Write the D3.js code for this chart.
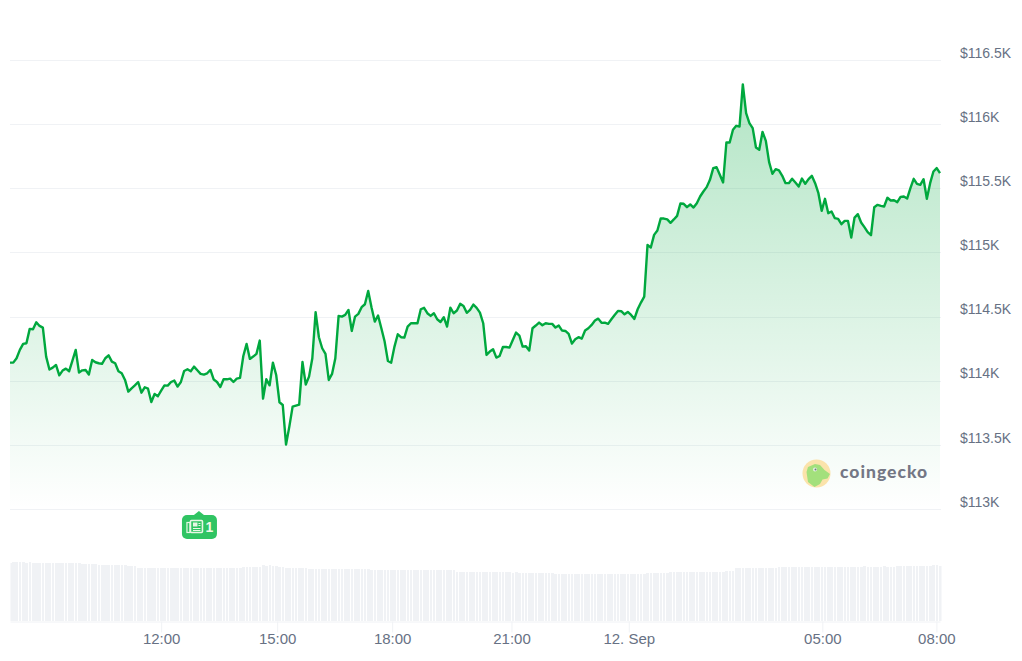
<!DOCTYPE html>
<html>
<head>
<meta charset="utf-8">
<style>
  html, body { margin: 0; padding: 0; background: #fff; }
  svg { display: block; }
  text { font-family: "Liberation Sans", Arial, sans-serif; }
</style>
<script src="https://cdn.jsdelivr.net/npm/d3@7/dist/d3.min.js"></script>
</head>
<body>
<div id="vis"></div>
<script>
// BTC price, roughly one sample every 5 minutes
var prices = [
  114141,114141,114175,114240,114287,114292,114404,114401,114456,114427,
  114414,114188,114087,114102,114123,114042,114079,114094,114074,114157,
  114240,114063,114081,114084,114048,114162,114144,114136,114131,114175,
  114198,114149,114136,114074,114058,114006,113915,113941,113964,113990,
  113907,113949,113938,113834,113897,113879,113923,113964,113962,113990,
  114001,113954,113990,114076,114089,114074,114110,114081,114053,114048,
  114058,114084,114009,113990,113951,114011,114011,114016,113990,114016,
  114022,114193,114287,114170,114188,114209,114313,113860,114011,113964,
  114141,114045,113832,113811,113502,113642,113798,113806,113814,114146,
  113970,114032,114175,114534,114339,114253,114209,114006,114053,114175,
  114505,114500,114513,114552,114388,114500,114521,114573,114596,114700,
  114573,114461,114508,114409,114305,114154,114141,114266,114362,114339,
  114336,114422,114448,114448,114448,114557,114568,114526,114505,114526,
  114479,114458,114495,114422,114570,114526,114547,114599,114583,114529,
  114552,114594,114568,114531,114448,114201,114227,114245,114180,114193,
  114263,114263,114258,114318,114375,114352,114266,114269,114235,114409,
  114430,114453,114432,114448,114443,114443,114414,114430,114391,114388,
  114365,114289,114323,114339,114328,114391,114409,114435,114469,114484,
  114451,114453,114443,114479,114513,114544,114542,114518,114536,114513,
  114482,114557,114609,114656,115059,115038,115137,115171,115264,115264,
  115257,115231,115257,115285,115381,115379,115353,115374,115350,115384,
  115436,115475,115509,115566,115657,115665,115605,115545,115857,115857,
  115956,115987,115982,116310,116086,116008,115969,115818,115800,115940,
  115870,115704,115613,115649,115639,115597,115540,115540,115574,115545,
  115514,115576,115535,115571,115597,115540,115462,115324,115418,115306,
  115319,115267,115262,115220,115246,115246,115116,115272,115298,115233,
  115197,115158,115134,115353,115371,115363,115358,115426,115405,115407,
  115392,115433,115436,115420,115501,115574,115535,115527,115571,115418,
  115540,115631,115657,115618
];

// volume per sample, same order as prices (no axis in the picture, so arbitrary units)
var volumes = [
  57.8,58.8,59,58.6,58.8,58.5,58.7,58.4,58.2,58.2,
  58.1,58,58,58.2,58,57.8,57.9,58,58,58,
  57.9,57.6,57.4,57.2,57.4,57.1,56.8,56.4,56.1,56,
  56,55.8,55.9,55.8,55.7,55.6,55.4,55.3,55.2,53.5,
  53,53.2,53.1,53.3,53,53,52.9,53,53,53.2,
  53,52.8,52.9,52.9,52.9,52.8,52.9,53,53,53,
  52.9,53,53,53,53,52.9,53,53.1,53,53.3,
  53.5,53.7,54,54,54,53.9,53.8,55.6,55.5,55.7,
  55,54.6,54.2,53.8,53.5,53,53,53,53.1,53.1,
  53,52.4,52.2,52,52,51.6,51.7,51.8,51.6,51.7,
  51.8,51.9,52,52.2,52.2,52,51.8,51.6,51.7,51.6,
  51.5,51.5,51.4,51.5,51.4,51.3,51.3,51.2,51.2,51.3,
  51.2,51.1,51.1,51.2,51.1,51,51,51.1,51,51,
  51,51.1,51,51,51,51.1,49.2,49,49,49,
  49,48.9,48.9,49,48.8,48.8,48.8,48.8,48.9,48.7,
  48.8,48.7,48.6,48.4,48.6,48.5,48.2,48.4,48.2,48.2,
  48,48.2,48,47.8,47.6,47.6,47.4,47.4,47.2,47,
  47,46.8,46.9,46.8,47,46.9,46.9,46.8,46.9,46.8,
  46.8,46.9,46.9,47,46.9,46.9,47,47,47,47,
  47,47,47.1,47.4,47.8,48,48.1,48,48.1,48.2,
  48.2,48.6,48.8,49,49,49,48.8,49,48.9,48.6,
  48.8,48.9,48.7,48.8,49,49,49.4,49.5,50,50.2,
  50.4,52.6,53,52.8,52.6,52.7,53,53,53,53,
  53,53.1,53.2,53.4,53.6,53.9,53.7,53.6,54,53.9,
  54,54,54,54.1,54,54,54.1,54,54,54,
  54.2,54,54.1,54,54,54.1,54,54.2,54,54.4,
  54.8,54.4,54.2,54.2,54.4,54.3,54.6,54.4,54.3,54.4,
  54.6,54.6,54.8,55,54.8,55,55.2,55.2,55.2,55.4,
  55.4,55.6,55.6,55.3
];

var priceTicks = [113000, 113500, 114000, 114500, 115000, 115500, 116000, 116500];
var priceLabels = ["$113K", "$113.5K", "$114K", "$114.5K", "$115K", "$115.5K", "$116K", "$116.5K"];

// the x axis is ordinal: ticks sit at sample positions, not evenly spaced in time
var timeTicks = [46, 81.3, 116.3, 152.6, 188.3, 247.2, 281.9];
var timeLabels = ["12:00", "15:00", "18:00", "21:00", "12. Sep", "05:00", "08:00"];

var newsEvents = [{sample: 57.5, count: 1}];

var width = 1022, height = 661;
var lineColor = "#00a83e", gridColor = "#f0f2f5", labelColor = "#677184";

var svg = d3.select("#vis").append("svg")
  .attr("width", width)
  .attr("height", height);

var x = d3.scaleLinear().domain([0, prices.length - 1]).range([10, 940]);
var y = d3.scaleLinear().domain([113000, 116500]).range([509, 60]);
var yVol = d3.scaleLinear().domain([0, 59]).range([621, 562]);

var defs = svg.append("defs");
var grad = defs.append("linearGradient")
  .attr("id", "areaFill")
  .attr("gradientUnits", "userSpaceOnUse")
  .attr("x1", 0).attr("x2", 0)
  .attr("y1", y(d3.max(prices)))
  .attr("y2", y(113000));
grad.append("stop").attr("offset", 0).attr("stop-color", lineColor).attr("stop-opacity", 0.3);
grad.append("stop").attr("offset", 1).attr("stop-color", lineColor).attr("stop-opacity", 0);

// the volume bars are cut at the plot's left edge
defs.append("clipPath").attr("id", "plotClip").append("rect")
  .attr("x", 10.5).attr("y", 0).attr("width", 931).attr("height", height);

// gridlines
svg.append("g").selectAll("line")
  .data(priceTicks)
  .join("line")
  .attr("x1", 10)
  .attr("x2", 941)
  .attr("y1", function(d) { return Math.round(y(d)) + 0.5; })
  .attr("y2", function(d) { return Math.round(y(d)) + 0.5; })
  .attr("stroke", gridColor)
  .attr("stroke-width", 1);

// volume bars
svg.append("g")
  .attr("clip-path", "url(#plotClip)")
  .selectAll("rect")
  .data(volumes)
  .join("rect")
  .attr("x", function(d, i) { return x(i) - 1.1; })
  .attr("width", 2.6)
  .attr("y", function(d) { return yVol(d); })
  .attr("height", function(d) { return yVol(0) - yVol(d); })
  .attr("fill", gridColor)
  .attr("shape-rendering", "crispEdges");

// price area + line
var area = d3.area()
  .x(function(d, i) { return x(i); })
  .y0(y(113000))
  .y1(function(d) { return y(d); });
var line = d3.line()
  .x(function(d, i) { return x(i); })
  .y(function(d) { return y(d); });

svg.append("path").datum(prices)
  .attr("d", area)
  .attr("fill", "url(#areaFill)");
svg.append("path").datum(prices)
  .attr("d", line)
  .attr("fill", "none")
  .attr("stroke", lineColor)
  .attr("stroke-width", 2.4)
  .attr("stroke-linejoin", "round");

// price axis, labels sit just above their gridline
var yAxis = d3.axisRight(y)
  .tickValues(priceTicks)
  .tickSize(0)
  .tickPadding(0)
  .tickFormat(function(d, i) { return priceLabels[i]; });
var yG = svg.append("g").attr("transform", "translate(960,0)").call(yAxis);
yG.select(".domain").remove();
yG.selectAll("text")
  .attr("dy", -2.8)
  .attr("fill", labelColor)
  .style("font-size", "14px");

// time axis
var xAxis = d3.axisBottom(x)
  .tickValues(timeTicks)
  .tickSize(11)
  .tickSizeOuter(0)
  .tickPadding(1)
  .tickFormat(function(d, i) { return timeLabels[i]; });
var xG = svg.append("g").attr("transform", "translate(0,621.5)").call(xAxis);
xG.select(".domain").attr("stroke", gridColor);
xG.selectAll("line").attr("stroke", gridColor);
xG.selectAll("text")
  .attr("fill", labelColor)
  .style("font-size", "15px");

// news badge
var badge = svg.append("g").selectAll("g")
  .data(newsEvents)
  .join("g")
  .attr("transform", function(d) { return "translate(" + x(d.sample) + ",527)"; });
badge.append("rect")
  .attr("x", -17).attr("y", -12).attr("width", 35).attr("height", 24).attr("rx", 5)
  .attr("fill", "#30c463");
badge.append("path").attr("d", "M-5,-12 L0,-16 L5,-12 Z").attr("fill", "#30c463");
// little newspaper icon
badge.append("rect")
  .attr("x", -8.5).attr("y", -6.5).attr("width", 12).attr("height", 12).attr("rx", 1)
  .attr("fill", "none").attr("stroke", "#e9f7e6").attr("stroke-width", 1.6);
badge.append("rect")
  .attr("x", -12).attr("y", -4.5).attr("width", 3).attr("height", 10)
  .attr("fill", "none").attr("stroke", "#e9f7e6").attr("stroke-width", 1.2);
badge.append("rect")
  .attr("x", -6).attr("y", -4.5).attr("width", 4.5).attr("height", 4)
  .attr("fill", "#e9f7e6");
badge.append("path")
  .attr("d", "M-6,1.5 H1.5 M-6,3.5 H1.5 M-0.5,-3.5 H1.5 M-0.5,-1.5 H1.5")
  .attr("stroke", "#e9f7e6").attr("stroke-width", 1);
badge.append("text")
  .attr("x", 10.5).attr("y", 5)
  .attr("text-anchor", "middle")
  .attr("fill", "#f4f8e8")
  .style("font-size", "14px")
  .style("font-weight", "bold")
  .text(function(d) { return d.count; });

// coingecko watermark
var logo = svg.append("g");
logo.append("circle").attr("cx", 816.5).attr("cy", 473.5).attr("r", 14).attr("fill", "#fbe3ab");
logo.append("path")
  .attr("d", "M806.5,472 L808,467 L815,464 L820,465 L824.5,470 L830,474 L827.5,478.5 L822.5,479.5 L820,484 L814.5,487 L808,482 Z")
  .attr("fill", "#a3e07c");
logo.append("circle").attr("cx", 815).attr("cy", 469.5).attr("r", 2).attr("fill", "#e8efe8");
logo.append("circle").attr("cx", 815.5).attr("cy", 469.5).attr("r", 1).attr("fill", "#6d7a78");
logo.append("text")
  .attr("x", 840).attr("y", 478)
  .attr("fill", "#747785")
  .style("font-family", "Lato, sans-serif")
  .style("font-weight", "900")
  .style("font-size", "17.5px")
  .style("letter-spacing", "1px")
  .text("coingecko");
</script>
</body>
</html>
